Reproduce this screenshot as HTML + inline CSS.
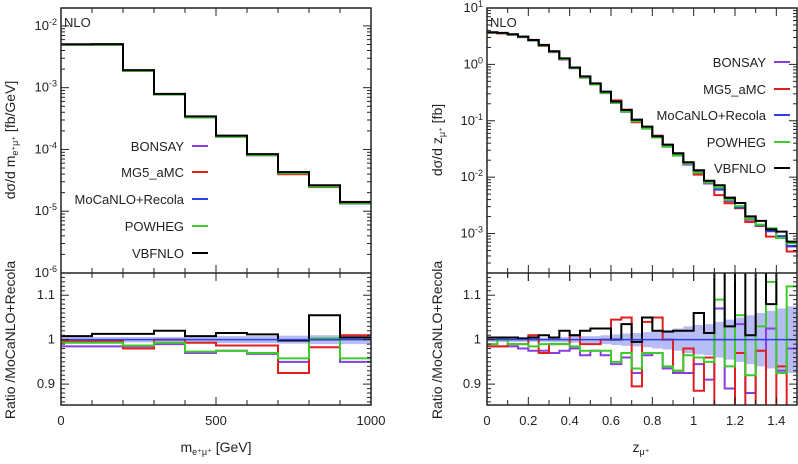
<!DOCTYPE html>
<html><head><meta charset="utf-8">
<style>
body{margin:0;background:#fff;width:798px;height:459px;overflow:hidden;font-family:"Liberation Sans",sans-serif}
svg text{font-family:"Liberation Sans",sans-serif;fill:#222}
</style></head>
<body>
<svg id="c" width="798" height="459" viewBox="0 0 798 459" xmlns="http://www.w3.org/2000/svg"></svg>
<script>
// ---------- data ----------
const leftEdges = [0,100,200,300,400,500,600,700,800,900,1000];
const leftMain = [5.0e-3,5.0e-3,1.9e-3,7.8e-4,3.4e-4,1.65e-4,8.3e-5,4.3e-5,2.5e-5,1.4e-5];
const leftBlack = [1.008,1.013,1.013,1.02,1.008,1.015,1.012,0.998,1.055,1.005];
const leftRed = [0.997,0.997,0.98,1.0,0.993,0.987,0.987,0.925,0.983,1.01];
const leftGreen = [0.993,0.993,0.987,0.993,0.973,0.975,0.97,0.958,1.003,0.958];
const leftPurple = [0.985,0.985,0.985,0.99,0.97,0.975,0.968,0.95,1.0,0.95];
const leftBand = [0.006,0.006,0.006,0.006,0.007,0.008,0.008,0.009,0.01,0.01];

const rightEdges = [0,0.05,0.1,0.15,0.2,0.25,0.3,0.35,0.4,0.45,0.5,0.55,0.6,0.65,0.7,0.75,0.8,0.85,0.9,0.95,1.0,1.05,1.1,1.15,1.2,1.25,1.3,1.35,1.4,1.45,1.5];
const rightMain = [3.7,3.6,3.4,3.1,2.7,2.2,1.7,1.25,0.87,0.6,0.45,0.32,0.22,0.15,0.105,0.075,0.052,0.037,0.026,0.018,0.0125,0.0085,0.006,0.0042,0.0029,0.002,0.0014,0.0011,0.0009,0.0006];
const rightBlack = [1.005,1.005,1.005,1.003,1.005,1.01,1.005,1.02,1.01,1.02,1.025,1.025,1.0,1.035,0.995,1.05,1.02,1.018,1.02,1.02,1.06,1.015,1.2,1.03,1.2,1.01,1.2,1.08,1.2,1.2];
const rightRed = [0.985,0.985,0.99,0.99,1.01,0.97,0.99,0.99,1.01,0.99,0.99,1.0,1.045,1.05,0.895,1.04,1.05,1.0,0.93,0.98,0.885,0.96,0.8,0.82,0.97,0.8,0.975,0.8,0.94,0.8];
const rightGreen = [0.99,1.0,0.99,0.99,0.985,0.99,0.99,0.99,0.985,0.975,0.975,0.975,0.95,0.97,0.935,0.97,0.97,0.94,0.93,0.965,0.96,0.95,1.09,0.94,1.055,0.92,1.03,1.13,0.925,1.12];
const rightPurple = [0.985,0.985,0.985,0.98,0.975,0.975,0.97,0.975,0.98,0.965,0.975,0.965,0.945,0.96,0.925,0.965,0.97,0.935,0.925,0.925,0.945,0.91,1.07,0.89,1.035,0.88,0.975,1.025,0.93,0.98];
const rightBand = [0.005,0.005,0.005,0.005,0.005,0.005,0.006,0.006,0.007,0.008,0.008,0.01,0.012,0.014,0.015,0.017,0.02,0.022,0.025,0.03,0.033,0.035,0.04,0.045,0.05,0.055,0.06,0.065,0.07,0.075];
const legendNames = ["BONSAY","MG5_aMC","MoCaNLO+Recola","POWHEG","VBFNLO"];
const legendColors = ["#8a3ee0","#e02020","#2a40e0","#3ccc2a","#000"];

// ---------- helpers ----------
const S="http://www.w3.org/2000/svg", svg=document.getElementById('c');
function mk(tag,attrs,parent){const e=document.createElementNS(S,tag);for(const k in attrs)e.setAttribute(k,attrs[k]);(parent||svg).appendChild(e);return e;}
function stepPath(edges,vals,fx,fy){let d='';for(let i=0;i<vals.length;i++){const y=fy(vals[i]);d+=(i?'L':'M')+fx(edges[i])+','+y+'L'+fx(edges[i+1])+','+y;}return d;}

function panel(cfg){
  const {x0,x1,xmin,xmax,tT,tB,lmin,lmax,rT,rB,rmin,rmax,edges,main,black,red,green,purple,band,id} = cfg;
  const fx=v=>x0+(v-xmin)/(xmax-xmin)*(x1-x0);
  const fyl=v=>tB-(Math.log10(v)-lmin)/(lmax-lmin)*(tB-tT);
  const fyr=v=>rB-(v-rmin)/(rmax-rmin)*(rB-rT);
  const clipT=mk('clipPath',{id:id+'ct'});mk('rect',{x:x0,y:tT,width:x1-x0,height:tB-tT},clipT);
  const clipR=mk('clipPath',{id:id+'cr'});mk('rect',{x:x0,y:rT,width:x1-x0,height:rB-rT},clipR);
  const gt=mk('g',{'clip-path':`url(#${id}ct)`});
  
  
  const mainSeries=[[main.map((v,i)=>v*purple[i]),legendColors[0]],[main.map((v,i)=>v*red[i]),legendColors[1]],[main,legendColors[2]],[main.map((v,i)=>v*green[i]),legendColors[3]],[main.map((v,i)=>v*black[i]),legendColors[4]]];
  mainSeries.forEach((s,k)=>{const p=mk('path',{d:stepPath(edges,s[0],fx,fyl),fill:'none',stroke:s[1],'stroke-width':2},gt);
    
    });
  const gr=mk('g',{'clip-path':`url(#${id}cr)`});
  
  
  let d='';for(let i=0;i<band.length;i++){d+='M'+fx(edges[i])+','+fyr(1+band[i])+'H'+fx(edges[i+1])+'V'+fyr(1-band[i])+'H'+fx(edges[i])+'Z';}
  const b=mk('path',{d:d,fill:'#b8bcf4',stroke:'none'},gr);
  
  
  const ratioSeries=[[purple,legendColors[0]],[red,legendColors[1]],[green,legendColors[3]],[black,legendColors[4]]];
  ratioSeries.forEach(s=>{const p=mk('path',{d:stepPath(edges,s[0],fx,fyr),fill:'none',stroke:s[1],'stroke-width':2},gr);
    
    });
  const ln=mk('line',{x1:x0,x2:x1,y1:fyr(1),y2:fyr(1),stroke:'#2a40e0','stroke-width':1.5},gr);
  
  
  mk('rect',{x:x0,y:tT,width:x1-x0,height:rB-tT,fill:'none',stroke:'#222','stroke-width':1.5});
  mk('line',{x1:x0,x2:x1,y1:tB,y2:tB,stroke:'#222','stroke-width':1.5});
  const tk=mk('g',{stroke:'#222','stroke-width':1});
  for(let e=Math.floor(lmin);e<=Math.ceil(lmax);e++){
    for(let m=1;m<10;m++){const lv=e+Math.log10(m);if(lv<lmin||lv>lmax)continue;const y=tB-(lv-lmin)/(lmax-lmin)*(tB-tT);const L=m==1?8:4;
      mk('line',{x1:x0,x2:x0+L,y1:y,y2:y},tk);mk('line',{x1:x1,x2:x1-L,y1:y,y2:y},tk);}
    if(e>=lmin-0.01&&e<=lmax+0.01){const y=tB-(e-lmin)/(lmax-lmin)*(tB-tT);
      const t=mk('text',{x:x0-4,y:y+4,'text-anchor':'end','font-size':13});
      t.innerHTML='10<tspan dy="-5" font-size="9">'+e+'</tspan>';
      
      }
  }
  for(let v=0.86;v<=1.15;v+=0.01){const y=fyr(v);const maj=Math.abs(v*10-Math.round(v*10))<0.01;const L=maj?8:4;
    mk('line',{x1:x0,x2:x0+L,y1:y,y2:y},tk);mk('line',{x1:x1,x2:x1-L,y1:y,y2:y},tk);}
  [1.1,1,0.9].forEach(v=>{const t=mk('text',{x:x0-6,y:fyr(v)+4,'text-anchor':'end','font-size':13});t.textContent=String(v);
    
    });
  cfg.xminor.forEach(v=>{const x=fx(v);const maj=cfg.xmajor.includes(v);const L=maj?8:5;
    [tT,tB,rT].forEach(y=>mk('line',{x1:x,x2:x,y1:y,y2:y+L},tk));
    [tB,rB].forEach(y=>mk('line',{x1:x,x2:x,y1:y,y2:y-L},tk));});
  cfg.xmajor.forEach((v,i)=>{const t=mk('text',{x:fx(v),y:425,'text-anchor':'middle','font-size':13});t.textContent=cfg.xlabels[i];
    
    });
  const nlo=mk('text',{x:x0+3,y:tT+19,'font-size':13});nlo.textContent='NLO';
  
  
  legendNames.forEach((n,k)=>{const y=cfg.legY[k];
    const t=mk('text',{x:cfg.legX,y:y+5,'text-anchor':'end','font-size':13});t.textContent=n;
    
    
    mk('line',{x1:cfg.legX+8,x2:cfg.legX+24,y1:y,y2:y,stroke:legendColors[k],'stroke-width':2});});
}

panel({id:'left',x0:61,x1:371,xmin:0,xmax:1000,tT:8,tB:273,lmin:-6,lmax:-1.71,rT:273,rB:405,rmin:0.853,rmax:1.15,
  edges:leftEdges,main:leftMain,black:leftBlack,red:leftRed,green:leftGreen,purple:leftPurple,band:leftBand,
  xminor:[0,100,200,300,400,500,600,700,800,900,1000],xmajor:[0,500,1000],xlabels:['0','500','1000'],
  legX:184,legY:[146,172,199,226,253]});
panel({id:'right',x0:487,x1:797,xmin:0,xmax:1.5,tT:8,tB:273,lmin:-3.7,lmax:1,rT:273,rB:405,rmin:0.853,rmax:1.15,
  edges:rightEdges,main:rightMain,black:rightBlack,red:rightRed,green:rightGreen,purple:rightPurple,band:rightBand,
  xminor:[0,0.1,0.2,0.3,0.4,0.5,0.6,0.7,0.8,0.9,1.0,1.1,1.2,1.3,1.4],xmajor:[0,0.2,0.4,0.6,0.8,1.0,1.2,1.4],xlabels:['0','0.2','0.4','0.6','0.8','1','1.2','1.4'],
  legX:766,legY:[62,89,115,142,168]});

function ytitle(x,y,html,name){const t=mk('text',{x:0,y:0,'text-anchor':'middle','font-size':14,transform:`translate(${x},${y}) rotate(-90)`});t.innerHTML=html;
  
  }
ytitle(15,140,'dσ/d m<tspan font-size="9" dy="3">e⁺μ⁺</tspan><tspan dy="-3"> [fb/GeV]</tspan>','left-y-axis-title');
ytitle(15,340,'Ratio /MoCaNLO+Recola','left-ratio-axis-title');
ytitle(442,140,'dσ/d z<tspan font-size="9" dy="3">μ⁺</tspan><tspan dy="-3"> [fb]</tspan>','right-y-axis-title');
ytitle(442,340,'Ratio /MoCaNLO+Recola','right-ratio-axis-title');
let t=mk('text',{x:216,y:452,'text-anchor':'middle','font-size':14});t.innerHTML='m<tspan font-size="9" dy="3">e⁺μ⁺</tspan><tspan dy="-3"> [GeV]</tspan>';


t=mk('text',{x:641,y:452,'text-anchor':'middle','font-size':14});t.innerHTML='z<tspan font-size="9" dy="3">μ⁺</tspan>';


</script>
</body></html>
